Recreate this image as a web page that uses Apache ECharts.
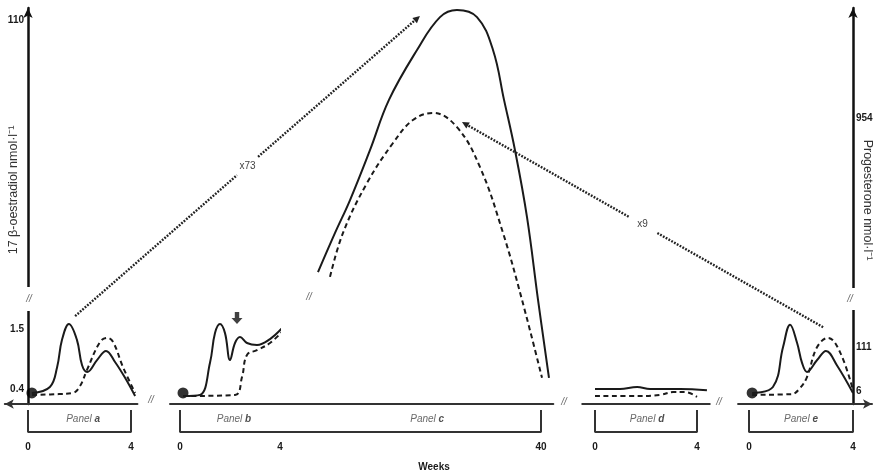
<!DOCTYPE html>
<html>
<head>
<meta charset="utf-8">
<script src="https://cdn.jsdelivr.net/npm/echarts@6/dist/echarts.min.js"></script>
<style>
html, body { margin: 0; padding: 0; background: #fff; }
#main { width: 874px; height: 475px; }
</style>
</head>
<body>
<div id="main"></div>
<script>
// x = weeks, y = schematic hormone level (0..100 display units)
var aSolid  = [[0.15,2.8],[0.85,4.3],[1.13,9.3],[1.32,16.2],[1.59,20.2],[1.9,16.2],[2.1,9.8],[2.3,8.1],[2.68,11.1],[3.03,13.4],[3.38,10.6],[3.77,6.6],[4.16,2.0]];
var aDashed = [[0.16,2.3],[1.2,2.5],[1.75,2.8],[2.02,4.5],[2.29,8.6],[2.8,15.7],[3.07,16.7],[3.3,15.7],[3.69,9.3],[4.16,2.8]];
var bSolid  = [[0.12,2.0],[0.8,2.3],[1.2,10.4],[1.4,17.9],[1.6,20.2],[1.8,17.9],[2.0,11.1],[2.2,15.4],[2.4,16.9],[2.68,15.4],[3.08,14.9],[3.6,16.4],[4.12,19.4]];
var bDashed = [[0.12,2.0],[2.2,2.3],[2.48,6.8],[2.68,12.4],[3.08,13.6],[3.6,15.4],[4.08,18.2]];
var cSolid  = [[9.24,33.3],[11.59,43.2],[13.66,51.5],[16.41,64.1],[19.03,76.8],[22.9,89.4],[26.07,97.7],[28.41,99.5],[31.17,97.7],[33.38,89.4],[34.9,76.8],[36.41,64.1],[38.07,47.2],[39.59,26.3],[41.1,6.6]];
var cDashed = [[10.9,32.1],[12.69,43.2],[16.0,55.8],[19.59,65.9],[22.34,71.7],[25.1,73.5],[28.41,69.9],[31.59,59.8],[34.76,43.2],[37.38,26.3],[40.14,6.6]];
var dSolid  = [[0,3.8],[0.98,3.8],[1.65,4.3],[2.16,3.8],[3.33,3.8],[4.39,3.5]];
var dDashed = [[0,2.0],[1.76,2.0],[2.55,2.3],[3.06,3.0],[3.53,3.0],[4.0,1.8]];
var eSolid  = [[0.12,2.8],[0.92,4.3],[1.31,14.4],[1.58,20.0],[1.85,15.4],[2.04,10.4],[2.23,8.1],[2.62,11.1],[2.96,13.4],[3.38,9.8],[4.0,2.8]];
var eDashed = [[0.12,2.3],[1.65,2.5],[1.96,4.0],[2.23,6.8],[2.62,14.4],[3.04,16.7],[3.5,13.1],[4.0,3.5]];

var startDots = [[0.15,2.8],[0.12,2.8],[0.12,2.8]];   // panels a, b, e
var downArrow = [2.28, 21.7];                          // panel b

var leftTickLevels  = [3.8, 18.9, 97];
var leftTickLabels  = ['0.4', '1.5', '110'];
var rightTickLevels = [3.3, 14.4, 72.2];
var rightTickLabels = ['6', '111', '954'];
var weekTicks = [[0, 4], [0, 4], [40], [0, 4], [0, 4]];

var panelNames   = ['a', 'b', 'c', 'd', 'e'];
var panelGrid    = [0, 1, 2, 3, 4];
var panelLabelAt = [[2.14,-3.8],[2.16,-3.8],[24.3,-3.8],[2.04,-3.8],[2.0,-3.8]];
var bracketTop = -1.5, bracketBottom = -7.1;

// fold-change arrows: [gridIndex, week, level]
var x73From = [0, 1.83, 22.2], x73To = [2, 23.3, 98];
var x9From  = [4, 2.85, 19.4], x9To  = [2, 29.1, 71.2];

var FONT = 'Liberation Sans, Arial, sans-serif';
var INK = '#1a1a1a';

var chart = echarts.init(document.getElementById('main'));

// layout: [pixel of week 0, px per week, min week, max week]
var layout = [
    [28, 25.75, -0.9, 4.25],
    [180, 25, -0.4, 4],
    [251, 7.25, 4, 41.7],
    [595, 25.5, -0.5, 4.5],
    [749, 26, -0.42, 4.73]
];

var grids = [], xAxes = [], yAxes = [];
layout.forEach(function(l, i) {
    grids.push({
        left: l[0] + l[2] * l[1],
        width: (l[3] - l[2]) * l[1],
        top: 8,
        height: 396,
        outerBoundsMode: 'none'
    });
    xAxes.push({
        type: 'value',
        gridIndex: i,
        min: l[2],
        max: l[3],
        axisLine: {
            show: true,
            symbol: i === 0 ? ['arrow', 'none'] : (i === 4 ? ['none', 'arrow'] : 'none'),
            symbolSize: [7, 9],
            lineStyle: { color: '#333', width: 2 }
        },
        axisTick: { show: false },
        splitLine: { show: false },
        axisLabel: {
            customValues: weekTicks[i],
            margin: 38,
            fontFamily: FONT,
            fontWeight: 'bold',
            fontSize: 10,
            color: INK
        }
    });
    yAxes.push({
        type: 'value',
        gridIndex: i,
        min: 0,
        max: 100,
        show: i === 0 || i === 4,
        splitLine: { show: false },
        axisTick: { show: false }
    });
});

function nearest(arr, v) {
    var best = 0;
    for (var i = 1; i < arr.length; i++) {
        if (Math.abs(arr[i] - v) < Math.abs(arr[best] - v)) best = i;
    }
    return best;
}

yAxes[0] = Object.assign(yAxes[0], {
    position: 'left',
    offset: -(0 - layout[0][2]) * layout[0][1],
    name: '17 β-oestradiol nmol·l⁻¹',
    nameLocation: 'middle',
    nameRotate: 90,
    nameGap: 8,
    nameMoveOverlap: false,
    nameTextStyle: { fontFamily: FONT, fontSize: 12.5, color: '#333', padding: [0, 0, 0, 32] },
    axisLine: {
        show: true,
        onZero: false,
        symbol: ['none', 'arrow'],
        symbolSize: [7, 10],
        lineStyle: { color: '#111', width: 2.5 }
    },
    axisLabel: {
        customValues: leftTickLevels,
        margin: 4,
        fontFamily: FONT, fontWeight: 'bold', fontSize: 10, color: INK,
        formatter: function(v) {
            return leftTickLabels[nearest(leftTickLevels, v)];
        }
    }
});

yAxes[4] = Object.assign(yAxes[4], {
    position: 'right',
    offset: -(layout[4][3] - 4) * layout[4][1],
    name: 'Progesterone nmol·l⁻¹',
    nameLocation: 'middle',
    nameRotate: -90,
    nameGap: 8,
    nameMoveOverlap: false,
    nameTextStyle: { fontFamily: FONT, fontSize: 12.5, color: '#333', padding: [0, 12, 0, 0] },
    axisLine: {
        show: true,
        onZero: false,
        symbol: ['none', 'arrow'],
        symbolSize: [7, 10],
        lineStyle: { color: '#111', width: 2.5 }
    },
    axisLabel: {
        customValues: rightTickLevels,
        margin: 3,
        fontFamily: FONT, fontWeight: 'bold', fontSize: 10, color: INK,
        formatter: function(v) {
            return rightTickLabels[nearest(rightTickLevels, v)];
        }
    }
});

function curve(data, g, dashed) {
    return {
        type: 'line',
        xAxisIndex: g, yAxisIndex: g,
        data: data,
        smooth: 0.4,
        symbol: 'none',
        clip: false,
        silent: true,
        lineStyle: { color: INK, width: 2, type: dashed ? [5, 3.5] : 'solid' }
    };
}

function bracket(data, g) {
    return {
        type: 'line',
        xAxisIndex: g, yAxisIndex: g,
        data: data,
        symbol: 'none',
        clip: false,
        silent: true,
        lineStyle: { color: '#333', width: 2 }
    };
}

var series = [
    curve(aSolid, 0, false), curve(aDashed, 0, true),
    curve(bSolid, 1, false), curve(bDashed, 1, true),
    curve(cSolid, 2, false), curve(cDashed, 2, true),
    curve(dSolid, 3, false), curve(dDashed, 3, true),
    curve(eSolid, 4, false), curve(eDashed, 4, true),
    bracket([[0,bracketTop],[0,bracketBottom],[4,bracketBottom],[4,bracketTop]], 0),
    bracket([[0,bracketTop],[0,bracketBottom],[4,bracketBottom]], 1),
    bracket([[4,bracketBottom],[40,bracketBottom],[40,bracketTop]], 2),
    bracket([[0,bracketTop],[0,bracketBottom],[4,bracketBottom],[4,bracketTop]], 3),
    bracket([[0,bracketTop],[0,bracketBottom],[4,bracketBottom],[4,bracketTop]], 4)
];

[0, 1, 4].forEach(function(g, k) {
    series.push({
        type: 'scatter',
        xAxisIndex: g, yAxisIndex: g,
        data: [startDots[k]],
        symbolSize: 11,
        silent: true,
        itemStyle: { color: '#000' }
    });
});

series.push({
    type: 'scatter',
    xAxisIndex: 1, yAxisIndex: 1,
    data: [downArrow],
    symbol: 'path://M3,0 L7,0 L7,6 L10,6 L5,12 L0,6 L3,6 Z',
    symbolSize: [11, 12],
    silent: true,
    itemStyle: { color: '#111' }
});

panelNames.forEach(function(n, i) {
    series.push({
        type: 'scatter',
        xAxisIndex: panelGrid[i], yAxisIndex: panelGrid[i],
        data: [panelLabelAt[i]],
        symbolSize: 0,
        clip: false,
        silent: true,
        label: {
            show: true,
            position: 'inside',
            formatter: '{i|Panel }{b|' + n + '}',
            rich: {
                i: { fontFamily: FONT, fontStyle: 'italic', fontSize: 10, color: '#444' },
                b: { fontFamily: FONT, fontStyle: 'italic', fontWeight: 'bold', fontSize: 10, color: '#222' }
            }
        }
    });
});

chart.setOption({
    animation: false,
    backgroundColor: '#fff',
    grid: grids,
    xAxis: xAxes,
    yAxis: yAxes,
    series: series
});

function toPx(p) {
    return chart.convertToPixel({ gridIndex: p[0] }, [p[1], p[2]]);
}

var dotStyle = { stroke: '#222', lineWidth: 2.4, lineDash: [1.8, 1.4] };

function dottedArrow(from, to, text, gap) {
    var a = toPx(from), b = toPx(to);
    var dx = b[0] - a[0], dy = b[1] - a[1];
    var len = Math.sqrt(dx * dx + dy * dy);
    var ux = dx / len, uy = dy / len;
    var mx = a[0] + dx / 2, my = a[1] + dy / 2;
    var head = 7, hw = 3.5;
    var base = [b[0] - ux * head, b[1] - uy * head];
    return [
        { type: 'line', z: 50, shape: { x1: a[0], y1: a[1], x2: mx - ux * gap, y2: my - uy * gap }, style: dotStyle },
        { type: 'line', z: 50, shape: { x1: mx + ux * gap, y1: my + uy * gap, x2: base[0], y2: base[1] }, style: dotStyle },
        { type: 'polygon', z: 50, shape: { points: [b, [base[0] - uy * hw, base[1] + ux * hw], [base[0] + uy * hw, base[1] - ux * hw]] }, style: { fill: '#222' } },
        { type: 'text', z: 50, x: mx, y: my, style: { text: text, fontFamily: FONT, fontSize: 10, fill: '#444', align: 'center', verticalAlign: 'middle' } }
    ];
}

function breakMark(x, y) {
    return { type: 'text', z: 101, x: x, y: y, style: { text: '//', fontFamily: FONT, fontStyle: 'italic', fontSize: 10, fill: '#666', align: 'center', verticalAlign: 'middle' } };
}

var graphics = []
    .concat(dottedArrow(x73From, x73To, 'x73', 14))
    .concat(dottedArrow(x9From, x9To, 'x9', 16));

graphics.push(
    { type: 'rect', z: 100, shape: { x: 23, y: 287, width: 10, height: 24 }, style: { fill: '#fff' } },
    { type: 'rect', z: 100, shape: { x: 848, y: 288, width: 10, height: 22 }, style: { fill: '#fff' } },
    breakMark(29, 299), breakMark(850, 299),
    breakMark(151, 400), breakMark(309, 297), breakMark(564, 402), breakMark(719, 402),
    { type: 'text', z: 50, x: 434, y: 467, style: { text: 'Weeks', fontFamily: FONT, fontWeight: 'bold', fontSize: 10, fill: INK, align: 'center', verticalAlign: 'middle' } }
);

chart.setOption({ graphic: graphics });
</script>
</body>
</html>
